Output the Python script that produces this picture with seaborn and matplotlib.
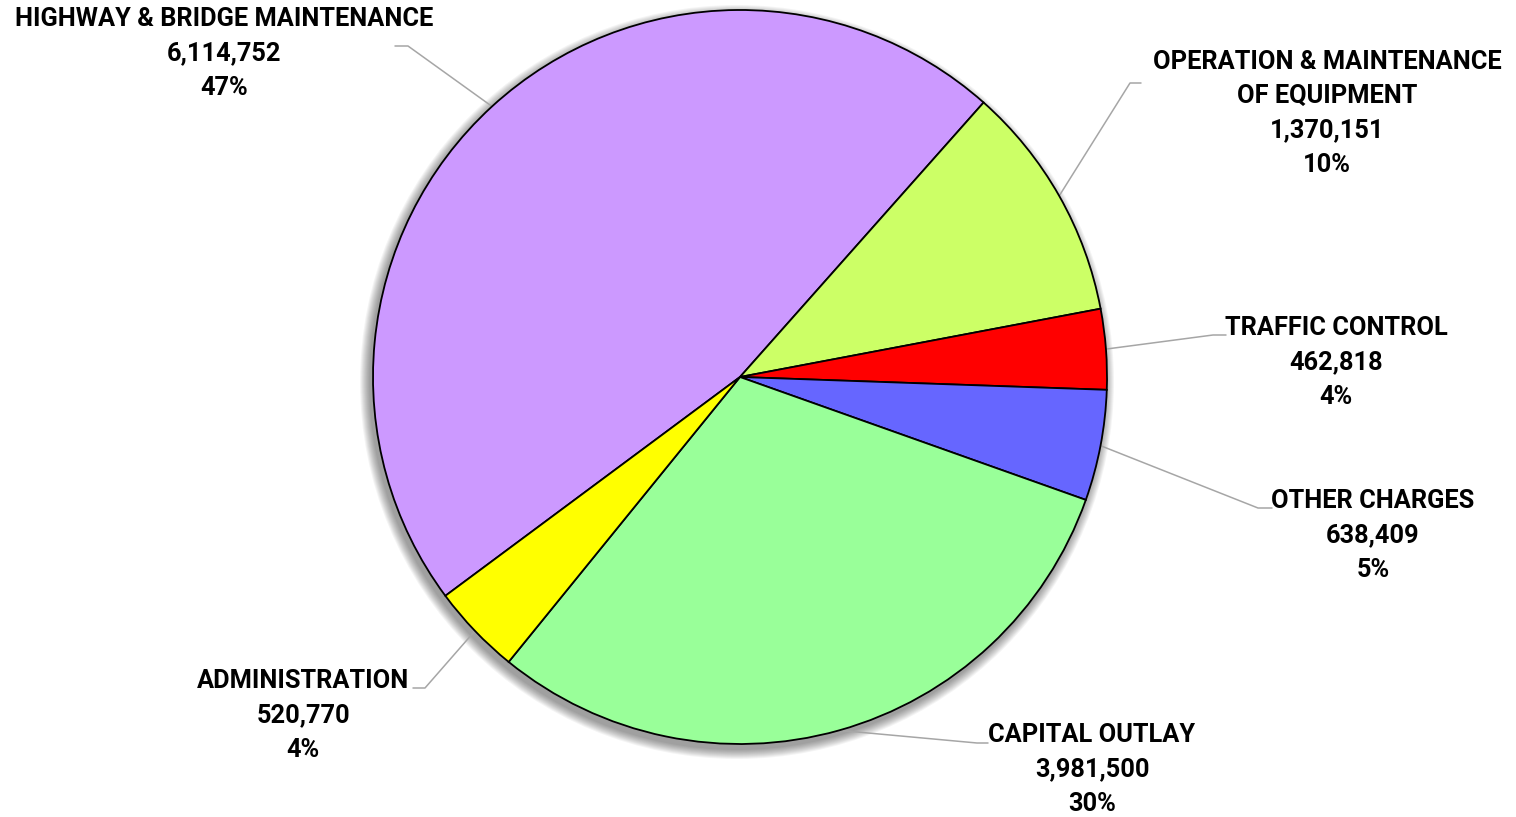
import numpy as np
import matplotlib
matplotlib.use("Agg")
from matplotlib import pyplot as plt
from matplotlib.patches import Circle
import seaborn as sns

# slice data, in drawing order (clockwise)
categories = ["HIGHWAY & BRIDGE MAINTENANCE",
              "OPERATION & MAINTENANCE\nOF EQUIPMENT",
              "TRAFFIC CONTROL",
              "OTHER CHARGES",
              "CAPITAL OUTLAY",
              "ADMINISTRATION"]
amounts = [6114752, 1370151, 462818, 638409, 3981500, 520770]
slice_colors = ["#CC99FF", "#CCFF66", "#FF0000", "#6666FF", "#99FF99", "#FFFF00"]

# layout in pixels: pie center / radius, label block (center x, first line y),
# leader line (text end, elbow)
W, H = 1516, 817
CX, CY, R = 740, 377, 367
label_pos = [(224, 19), (1327, 62), (1336, 328), (1373, 501), (1092, 735), (303, 681)]
leader_end = [(395, 46), (1141, 83), (1226, 335), (1272, 508), (988, 743), (413, 688)]
leader_elbow = [(408, 46), (1130, 83), (1213, 335), (1258, 508), (977, 743), (425, 688)]
LINE_STEP = 34.3
START = 216.6


def to_data(px, py):
    """pixel position -> data units (pie radius = 1)"""
    return (px - CX) / R, (CY - py) / R


sns.set_theme(style="white")
plt.rcParams['font.family'] = ['Roboto', 'DejaVu Sans']
palette = sns.color_palette(slice_colors)

fig = plt.figure(figsize=(W / 100, H / 100), dpi=100)
ax = fig.add_axes([0, 0, 1, 1])

# soft drop shadow under the pie
sx, sy = to_data(CX - 3, CY + 5)
for i in range(10):
    ax.add_patch(Circle((sx, sy), 1 + (10 - i) * 1.0 / R, color='black',
                        alpha=0.045, lw=0, zorder=0))

wedges, _ = ax.pie(amounts, colors=palette, startangle=START, counterclock=False,
                   radius=1, wedgeprops=dict(edgecolor='black', linewidth=1.3))
for w in wedges:
    w.set_zorder(2)

total = sum(amounts)
for i, w in enumerate(wedges):
    # leader line from the middle of the slice edge
    mid = np.deg2rad((w.theta1 + w.theta2) / 2)
    px, py = np.cos(mid), np.sin(mid)
    ex, ey = to_data(*leader_elbow[i])
    tx, ty = to_data(*leader_end[i])
    ax.plot([px, ex, tx], [py, ey, ty], color='#A6A6A6', lw=1.1, zorder=1)

    lines = categories[i].split('\n') + ['{:,}'.format(amounts[i]),
                                         '{:.0%}'.format(amounts[i] / total)]
    lx, ly = label_pos[i]
    for k, line in enumerate(lines):
        x, y = to_data(lx, ly + k * LINE_STEP)
        ax.text(x, y, line, ha='center', va='center', fontsize=18.3,
                fontweight='bold', color='black')

ax.set_xlim(-CX / R, (W - CX) / R)
ax.set_ylim(-(H - CY) / R, CY / R)
ax.set_aspect('auto')
ax.axis('off')

plt.savefig('out.png', dpi=100)
